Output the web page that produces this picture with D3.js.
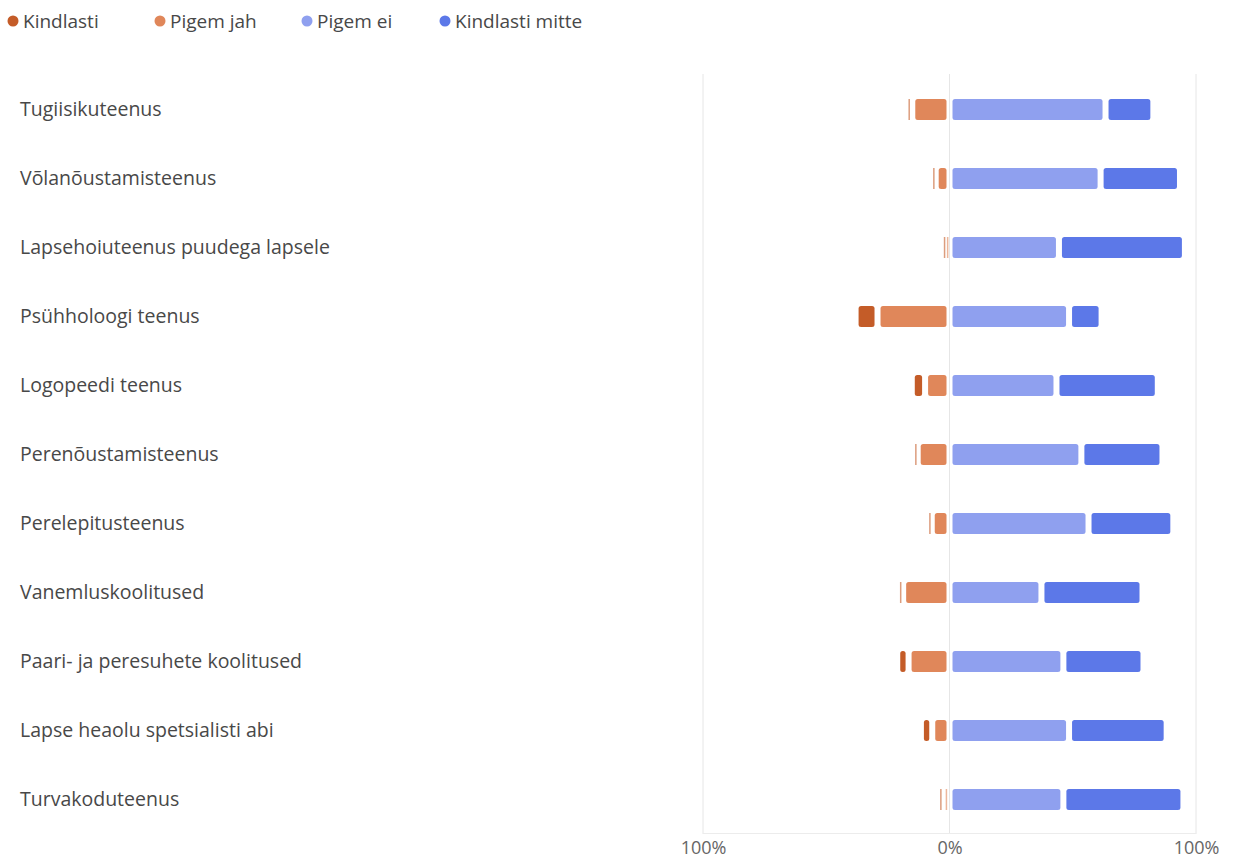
<!DOCTYPE html>
<html>
<head>
<meta charset="utf-8">
<script src="https://cdn.jsdelivr.net/npm/d3@7"></script>
<style>
  html, body { margin: 0; padding: 0; background: #fff; }
  svg { display: block; font-family: "Segoe UI", "Open Sans", "Noto Sans", sans-serif; }
</style>
</head>
<body>
<svg id="chart" width="1238" height="860"></svg>
<script>
const categories = [
  "Tugiisikuteenus",
  "Võlanõustamisteenus",
  "Lapsehoiuteenus puudega lapsele",
  "Psühholoogi teenus",
  "Logopeedi teenus",
  "Perenõustamisteenus",
  "Perelepitusteenus",
  "Vanemluskoolitused",
  "Paari- ja peresuhete koolitused",
  "Lapse heaolu spetsialisti abi",
  "Turvakoduteenus"
];
const seriesNames = ["Kindlasti", "Pigem jah", "Pigem ei", "Kindlasti mitte"];
const kindlasti      = [2.5, 1.5, 1.0, 8.9, 5.4, 1.5, 1.5, 2.0, 4.6, 4.6, 2.0];
const pigemJah       = [15.1, 5.6, 1.5, 29.2, 9.9, 12.9, 7.2, 18.8, 16.6, 7.0, 2.5];
const pigemEi        = [63.3, 61.3, 44.4, 48.5, 43.4, 53.5, 56.4, 37.3, 46.2, 48.5, 46.2];
const kindlastiMitte = [19.4, 32.2, 51.1, 13.2, 41.1, 32.9, 34.4, 41.0, 32.5, 39.6, 48.7];
const tickValues = [-100, 0, 100];
const tickLabels = ["100%", "0%", "100%"];
const colors = ["#c45c28", "#e0875a", "#8fa0ef", "#5c78e8"];

const svg = d3.select("#chart");
const x = d3.scaleLinear().domain([-100, 100]).range([703, 1196]);
const y = d3.scaleBand().domain(categories).range([75, 834]).paddingInner(0).paddingOuter(0);
const barH = 21;

// gridlines
const grid = svg.append("g");
grid.selectAll("line.v").data(tickValues).join("line")
  .attr("x1", d => x(d)).attr("x2", d => x(d))
  .attr("y1", 74).attr("y2", 834)
  .attr("stroke", "#e6e6e6").attr("stroke-width", 1);
grid.append("line")
  .attr("x1", x(-100)).attr("x2", x(100))
  .attr("y1", 833.5).attr("y2", 833.5)
  .attr("stroke", "#ececec").attr("stroke-width", 1);

// axis labels
const xAxis = d3.axisBottom(x).tickValues(tickValues).tickFormat((d, i) => tickLabels[i]).tickSize(0).tickPadding(7);
const axG = svg.append("g").attr("transform", "translate(0,834)").call(xAxis);
axG.select(".domain").remove();
axG.selectAll("text").attr("fill", "#666").style("font-size", "18px")
  .style("font-family", "\"Segoe UI\", \"Open Sans\", \"Noto Sans\", sans-serif");

// segments
const segs = [];
categories.forEach((c, i) => {
  const pj0 = -pigemJah[i];
  segs.push({cat: c, s: 1, v0: pj0, v1: 0});
  segs.push({cat: c, s: 0, v0: pj0 - kindlasti[i], v1: pj0});
  segs.push({cat: c, s: 2, v0: 0, v1: pigemEi[i]});
  segs.push({cat: c, s: 3, v0: pigemEi[i], v1: pigemEi[i] + kindlastiMitte[i]});
});

const inset = 3;
const g = svg.append("g");
g.selectAll("rect").data(segs).join("rect")
  .each(function(d) {
    const a = x(d.v0), b = x(d.v1);
    const w = b - a;
    const sel = d3.select(this);
    const yy = y(d.cat) + (y.bandwidth() - barH) / 2;
    if (w - 2 * inset < 1.5) {
      const cx = (a + b) / 2;
      sel.attr("x", cx - 0.75).attr("width", 1.5).attr("opacity", 0.6).attr("rx", 0);
    } else {
      sel.attr("x", a + inset).attr("width", w - 2 * inset).attr("rx", 2.5);
    }
    sel.attr("y", yy).attr("height", barH).attr("fill", colors[d.s]);
  });

// category labels
svg.append("g").selectAll("text").data(categories).join("text")
  .attr("x", 20)
  .attr("y", d => y(d) + y.bandwidth() / 2)
  .attr("dy", "0.35em")
  .attr("fill", "#484848")
  .style("font-size", "19.5px")
  .text(d => d);

// legend
const legendX = [13, 160, 307, 445];
const lg = svg.append("g").selectAll("g").data(seriesNames).join("g")
  .attr("transform", (d, i) => `translate(${legendX[i]},21)`);
lg.append("circle").attr("r", 5.5).attr("fill", (d, i) => colors[i]);
lg.append("text").attr("x", 10).attr("dy", "0.35em")
  .attr("fill", "#484848").style("font-size", "19px").text(d => d);
</script>
</body>
</html>
